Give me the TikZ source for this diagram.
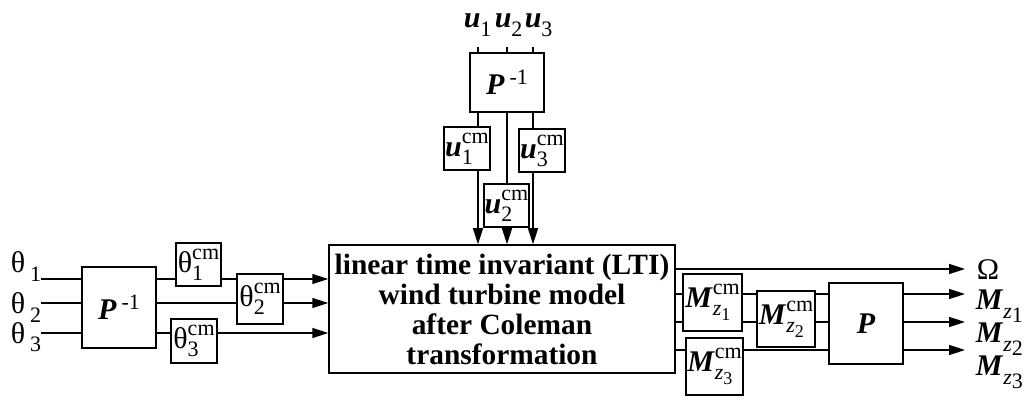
\documentclass[tikz,border=0pt]{standalone}
\usepackage{fontspec}
\setmainfont{Liberation Serif}
\usetikzlibrary{arrows.meta}
\newcommand{\bfit}[1]{\textbf{\textit{#1}}}
\newcommand{\subfnt}{\fontsize{11}{11}\selectfont}
\newcommand{\tinyfnt}{\fontsize{9}{9}\selectfont}
\newcommand{\lowsub}[1]{\raisebox{-4.5pt}{\subfnt #1}}
% nucleus with "cm" above and an index below
\newcommand{\cmlab}[2]{#1\raisebox{-4pt}{\makebox[0pt][l]{\subfnt #2}}\raisebox{6.5pt}{\subfnt cm}}

\begin{document}
\begin{tikzpicture}[x=0.5pt, y=-0.5pt, >={Triangle[length=8pt,width=5pt]}, line width=0.75pt,
    blk/.style={draw, fill=white, inner sep=0pt, font=\fontsize{15}{15}\selectfont},
    lab/.style={inner sep=0pt, font=\fontsize{15}{15}\selectfont}]
    \useasboundingbox (0,0) rectangle (1031,400);

    % main blocks
    \node[blk, minimum width=173pt, minimum height=64pt, align=center, font=\fontsize{14.7}{15}\selectfont\bfseries] (main) at (502,309)
        {linear time invariant (LTI)\\wind turbine model\\after Coleman\\transformation};
    \node[blk, minimum width=37pt, minimum height=40.5pt] (pinvL) at (119,307.5) {\bfit{P}\,\raisebox{5pt}{\subfnt -1}};
    \node[blk, minimum width=37pt, minimum height=29.5pt] (pinvT) at (507,82.5) {\raisebox{-3pt}{\bfit{P}\,\raisebox{5pt}{\subfnt -1}}};
    \node[blk, minimum width=37pt, minimum height=40.5pt] (pz) at (866,323.5) {\bfit{P}};

    % pitch inputs
    \coordinate (th1) at (41,279);
    \coordinate (th2) at (41,303);
    \coordinate (th3) at (41,333);
    \draw (th1) -- (th1 -| pinvL.west);
    \draw (th2) -- (th2 -| pinvL.west);
    \draw (th3) -- (th3 -| pinvL.west);
    \draw[->] (th1 -| pinvL.east) -- (th1 -| main.west);
    \draw[->] (th2 -| pinvL.east) -- (th2 -| main.west);
    \draw[->] (th3 -| pinvL.east) -- (th3 -| main.west);
    \node[lab, anchor=base west] (lth1) at (10,272) {θ\,\lowsub{1}};
    \node[lab, anchor=base west] (lth2) at (10,314) {θ\,\lowsub{2}};
    \node[lab, anchor=base west] (lth3) at (10,343) {θ\,\lowsub{3}};

    % inputs from the top
    \coordinate (u1) at (478,47);
    \coordinate (u2) at (507,47);
    \coordinate (u3) at (533,47);
    \draw (u1) -- (u1 |- pinvT.north);
    \draw (u2) -- (u2 |- pinvT.north);
    \draw (u3) -- (u3 |- pinvT.north);
    \draw[->] (u1 |- pinvT.south) -- (u1 |- main.north);
    \draw[->] (u2 |- pinvT.south) -- (u2 |- main.north);
    \draw[->] (u3 |- pinvT.south) -- (u3 |- main.north);
    \node[lab, anchor=base west] (lu1) at (463,28) {\bfit{u}\lowsub{1}};
    \node[lab, anchor=base west] (lu2) at (494,28) {\bfit{u}\lowsub{2}};
    \node[lab, anchor=base west] (lu3) at (524,28) {\bfit{u}\lowsub{3}};

    % outputs
    \coordinate (om) at (965,269);
    \coordinate (mz1) at (965,294);
    \coordinate (mz2) at (965,322);
    \coordinate (mz3) at (965,350);
    \draw[->] (om -| main.east) -- (om);
    \draw (mz1 -| main.east) -- (mz1 -| pz.west);
    \draw (mz2 -| main.east) -- (mz2 -| pz.west);
    \draw (mz3 -| main.east) -- (mz3 -| pz.west);
    \draw[->] (mz1 -| pz.east) -- (mz1);
    \draw[->] (mz2 -| pz.east) -- (mz2);
    \draw[->] (mz3 -| pz.east) -- (mz3);
    \node[lab, anchor=base west] (lom) at (976,279) {Ω};
    \node[lab, anchor=base west] (lmz1) at (975,309) {\bfit{M}\lowsub{\textit{z}\raisebox{-2pt}{1}}};
    \node[lab, anchor=base west] (lmz2) at (975,342) {\bfit{M}\lowsub{\textit{z}\raisebox{-2pt}{2}}};
    \node[lab, anchor=base west] (lmz3) at (975,375) {\bfit{M}\lowsub{\textit{z}\raisebox{-2pt}{3}}};

    % Coleman coordinates
    \node[blk, minimum width=22.5pt, minimum height=21.5pt] (thc1) at (198.5,264.5) {\cmlab{θ}{1}};
    \node[blk, minimum width=23pt, minimum height=25pt] (thc2) at (260,299) {\cmlab{θ}{2}};
    \node[blk, minimum width=23pt, minimum height=22pt] (thc3) at (194,341) {\cmlab{θ}{3}};
    \node[blk, minimum width=23pt, minimum height=21.5pt] (uc1) at (467,148.5) {\cmlab{\bfit{u}}{1}};
    \node[blk, minimum width=22.5pt, minimum height=21.5pt] (uc2) at (506.5,205.5) {\cmlab{\bfit{u}}{2}};
    \node[blk, minimum width=23pt, minimum height=21.5pt] (uc3) at (542,150.5) {\cmlab{\bfit{u}}{3}};
    \node[blk, minimum width=29.5pt, minimum height=28.5pt] (mc1) at (712.5,302.5) {\cmlab{\bfit{M}}{\textit{z}\raisebox{-2.5pt}{\tinyfnt 1}}};
    \node[blk, minimum width=29pt, minimum height=28pt] (mc2) at (786,319) {\cmlab{\bfit{M}}{\textit{z}\raisebox{-2.5pt}{\tinyfnt 2}}};
    \node[blk, minimum width=28.5pt, minimum height=28.5pt] (mc3) at (714.5,366.5) {\cmlab{\bfit{M}}{\textit{z}\raisebox{-2.5pt}{\tinyfnt 3}}};
\end{tikzpicture}
\end{document}
